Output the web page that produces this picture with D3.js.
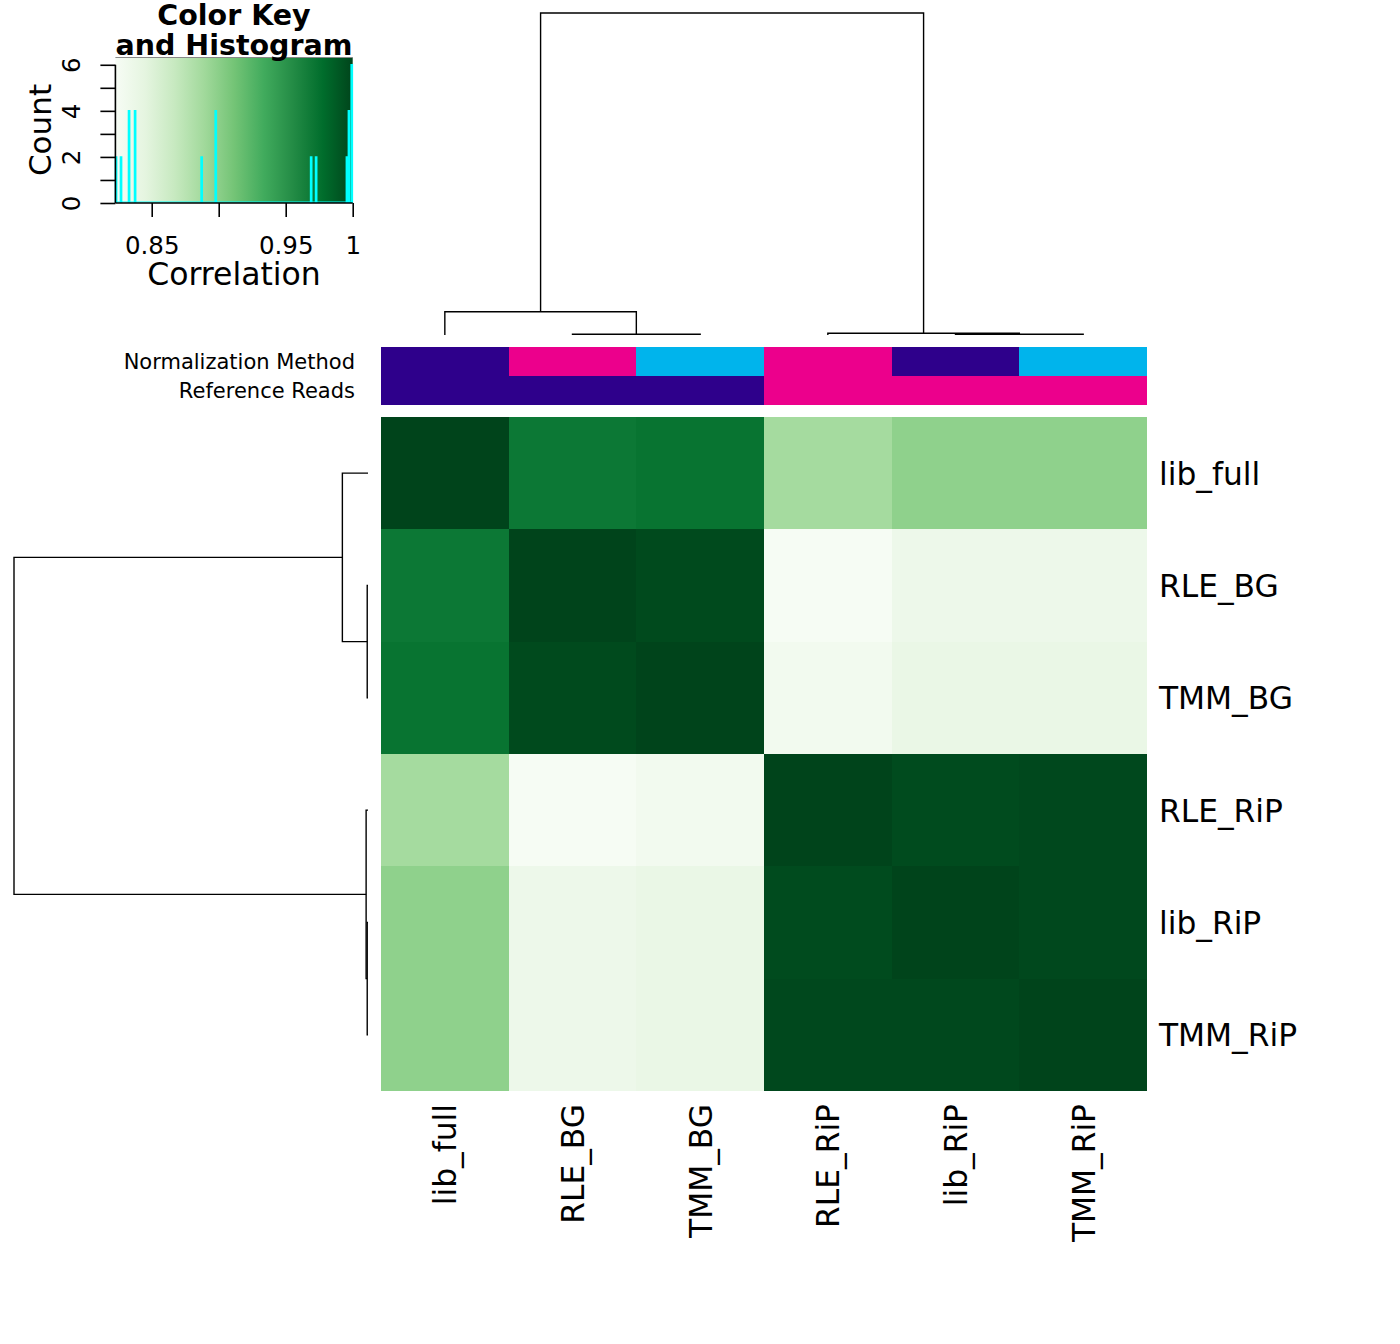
<!DOCTYPE html>
<html><head><meta charset="utf-8">
<script src="https://cdn.jsdelivr.net/npm/d3@7"></script>
<style>body{margin:0;background:#fff} text{font-family:"DejaVu Sans",sans-serif;fill:#000}</style>
</head><body><svg id="c" width="1400" height="1344"></svg>
<script>
// ---------- data ----------
const samples = ["lib_full","RLE_BG","TMM_BG","RLE_RiP","lib_RiP","TMM_RiP"];
const corLibFull = [1.000, 0.970, 0.973, 0.887, 0.898, 0.898];
const corRLEBG   = [0.970, 1.000, 0.997, 0.824, 0.835, 0.835];
const corTMMBG   = [0.973, 0.997, 1.000, 0.829, 0.839, 0.839];
const corRLERiP  = [0.887, 0.824, 0.829, 1.000, 0.996, 0.998];
const corLibRiP  = [0.898, 0.835, 0.839, 0.996, 1.000, 0.998];
const corTMMRiP  = [0.898, 0.835, 0.839, 0.998, 0.998, 1.000];
const corRows = [corLibFull, corRLEBG, corTMMBG, corRLERiP, corLibRiP, corTMMRiP];

const normMethod = ["lib","RLE","TMM","RLE","lib","TMM"];
const refReads   = ["full","BG","BG","RiP","RiP","RiP"];
const annotNames = ["Normalization Method","Reference Reads"];

// hclust-style merges (negative = leaf index, positive = earlier merge)
const mergeA = [-2, -5, -4, -1, 4];
const mergeB = [-3, -6,  2,  1, 3];
const mergeHeight = [0.0022, 0.0022, 0.0053, 0.0724, 1.0];

const histValues = [0.8234, 0.8271, 0.8331, 0.8376, 0.8873, 0.8978, 0.9690, 0.9727, 0.9957, 0.9972, 0.9993];
const histCounts = [2, 2, 4, 4, 2, 4, 2, 2, 2, 4, 6];
const keyMin = 0.8229, keyMax = 1.0;
const keyXTicks = [0.85, 0.90, 0.95, 1.00];
const keyXLabels = ["0.85", "", "0.95", "1"];
const keyYTicks = [0, 1, 2, 3, 4, 5, 6];
const keyYLabels = ["0", "", "2", "", "4", "", "6"];

const greens = ["#f7fcf5","#e5f5e0","#c7e9c0","#a1d99b","#74c476","#41ab5d","#238b45","#006d2c","#00441b"];
const annotColors = {lib:"#2e008b", RLE:"#ec008c", TMM:"#00b4ec", full:"#2e008b", BG:"#2e008b", RiP:"#ec008c"};

// ---------- layout ----------
const svg = d3.select("#c");
const hm = {x0:381, x1:1147, y0:417, y1:1091};
const xS = d3.scaleBand().domain(samples).range([hm.x0, hm.x1]);
const yS = d3.scaleBand().domain(samples).range([hm.y0, hm.y1]);
const color = d3.scaleLinear()
  .domain(greens.map((_, i) => keyMin + i * (keyMax - keyMin) / (greens.length - 1)))
  .range(greens).clamp(true);
const rx = v => Math.round(v);

// heatmap cells
const cells = [];
corRows.forEach((row, i) => row.forEach((v, j) => cells.push({r: samples[i], c: samples[j], v})));
svg.append("g").attr("shape-rendering", "crispEdges").selectAll("rect").data(cells).join("rect")
  .attr("x", d => rx(xS(d.c))).attr("y", d => rx(yS(d.r)))
  .attr("width", d => rx(xS(d.c) + xS.bandwidth()) - rx(xS(d.c)))
  .attr("height", d => rx(yS(d.r) + yS.bandwidth()) - rx(yS(d.r)))
  .attr("fill", d => color(d.v));

// annotation bars
const annotY = d3.scaleBand().domain(annotNames).range([347, 405]);
const annotData = [normMethod, refReads];
annotNames.forEach((nm, k) => {
  svg.append("g").attr("shape-rendering", "crispEdges").selectAll("rect").data(annotData[k]).join("rect")
    .attr("x", (d, j) => rx(xS(samples[j])))
    .attr("y", rx(annotY(nm)))
    .attr("width", (d, j) => rx(xS(samples[j]) + xS.bandwidth()) - rx(xS(samples[j])))
    .attr("height", rx(annotY(nm) + annotY.bandwidth()) - rx(annotY(nm)))
    .attr("fill", d => annotColors[d]);
  svg.append("text").attr("x", 355).attr("y", annotY(nm) + annotY.bandwidth() / 2 + 7.5)
    .attr("text-anchor", "end").attr("font-size", 21).text(nm);
});

// row labels
svg.append("g").selectAll("text").data(samples).join("text")
  .attr("x", 1159).attr("y", d => yS(d) + yS.bandwidth() / 2 + 11.5)
  .attr("font-size", 31.3).text(d => d);
// column labels
svg.append("g").selectAll("text").data(samples).join("text")
  .attr("transform", d => `translate(${xS(d) + xS.bandwidth() / 2 + 11.5},1104) rotate(-90)`)
  .attr("text-anchor", "end").attr("font-size", 31.3).text(d => d);

// ---------- dendrograms ----------
function buildNodes() {
  const nodes = [];
  const get = k => k < 0 ? {pos: -k - 1, h: 0} : nodes[k - 1];
  mergeA.forEach((a, i) => {
    const A = get(a), B = get(mergeB[i]);
    nodes.push({pos: (A.pos + B.pos) / 2, h: mergeHeight[i], A, B});
  });
  return nodes;
}
const nodes = buildNodes();
const colPos = p => xS(samples[0]) + xS.bandwidth() * (p + 0.5);
const rowPos = p => yS(samples[0]) + yS.bandwidth() * (p + 0.5);
const topH = d3.scaleLinear().domain([0, d3.max(mergeHeight)]).range([335, 13]);
const leftH = d3.scaleLinear().domain([0, d3.max(mergeHeight)]).range([368, 14]);

svg.append("g").selectAll("path").data(nodes).join("path")
  .attr("d", n => `M${colPos(n.A.pos)},${topH(n.A.h)}V${topH(n.h)}H${colPos(n.B.pos)}V${topH(n.B.h)}`)
  .attr("fill", "none").attr("stroke", "#000").attr("stroke-width", 1.4);
svg.append("g").selectAll("path").data(nodes).join("path")
  .attr("d", n => `M${leftH(n.A.h)},${rowPos(n.A.pos)}H${leftH(n.h)}V${rowPos(n.B.pos)}H${leftH(n.B.h)}`)
  .attr("fill", "none").attr("stroke", "#000").attr("stroke-width", 1.4);

// ---------- colour key ----------
const key = {x0:115.4, x1:352.7, y0:57.5, y1:203};
const kx = d3.scaleLinear().domain([keyMin, keyMax]).range([key.x0, key.x1]);
const ky = d3.scaleLinear().domain([0, d3.max(histCounts) / 0.95]).range([key.y1, key.y0]);
const grad = svg.append("defs").append("linearGradient").attr("id", "kg");
greens.forEach((c, i) => grad.append("stop").attr("offset", i / (greens.length - 1)).attr("stop-color", c));
svg.append("rect").attr("x", key.x0).attr("y", key.y0)
  .attr("width", key.x1 - key.x0).attr("height", key.y1 - key.y0).attr("fill", "url(#kg)");
svg.append("line").attr("x1", key.x0).attr("x2", key.x1).attr("y1", key.y0).attr("y2", key.y0)
  .attr("stroke", "#888").attr("stroke-width", 1);

// histogram
svg.append("line").attr("x1", key.x0).attr("x2", key.x1).attr("y1", ky(0) - 1).attr("y2", ky(0) - 1)
  .attr("stroke", "#00ffff").attr("stroke-width", 1.2);
svg.append("g").selectAll("path").data(histValues).join("path")
  .attr("d", (v, i) => `M${kx(v) - 0.6},${ky(0)}V${ky(histCounts[i])}H${kx(v) + 0.6}V${ky(0)}`)
  .attr("fill", "none").attr("stroke", "#00ffff").attr("stroke-width", 1.5);

// axes
const xAx = d3.axisBottom(kx).tickValues(keyXTicks).tickSize(14).tickPadding(20)
  .tickFormat((d, i) => keyXLabels[i]);
const gx = svg.append("g").attr("transform", `translate(0,${key.y1})`).call(xAx);
gx.select(".domain").attr("d", `M${key.x0},0H${key.x1}`).attr("stroke-width", 1.6);
gx.selectAll(".tick line").attr("stroke-width", 1.6);
gx.selectAll("text").attr("font-size", 24.5).attr("font-family", "DejaVu Sans").attr("fill", "#000");

const yAx = d3.axisLeft(ky).tickValues(keyYTicks).tickSize(15).tickFormat((d, i) => keyYLabels[i]);
const gy = svg.append("g").attr("transform", `translate(${key.x0},0)`).call(yAx);
gy.select(".domain").attr("d", `M0,${ky(0)}V${ky(6)}`).attr("stroke-width", 1.6);
gy.selectAll(".tick line").attr("stroke-width", 1.6);
gy.selectAll("text").attr("x", null).attr("dy", null).attr("text-anchor", "middle")
  .attr("transform", "translate(-35,0) rotate(-90)")
  .attr("font-size", 24.5).attr("font-family", "DejaVu Sans").attr("fill", "#000");

// key titles
svg.append("text").attr("x", 234).attr("y", 24.5).attr("text-anchor", "middle")
  .attr("font-size", 28.5).attr("font-weight", "bold").text("Color Key");
svg.append("text").attr("x", 234).attr("y", 55).attr("text-anchor", "middle")
  .attr("font-size", 28.5).attr("font-weight", "bold").text("and Histogram");
svg.append("text").attr("x", 234).attr("y", 284.5).attr("text-anchor", "middle")
  .attr("font-size", 31.5).text("Correlation");
svg.append("text").attr("transform", "translate(51,130) rotate(-90)").attr("text-anchor", "middle")
  .attr("font-size", 31).text("Count");
</script></body></html>
